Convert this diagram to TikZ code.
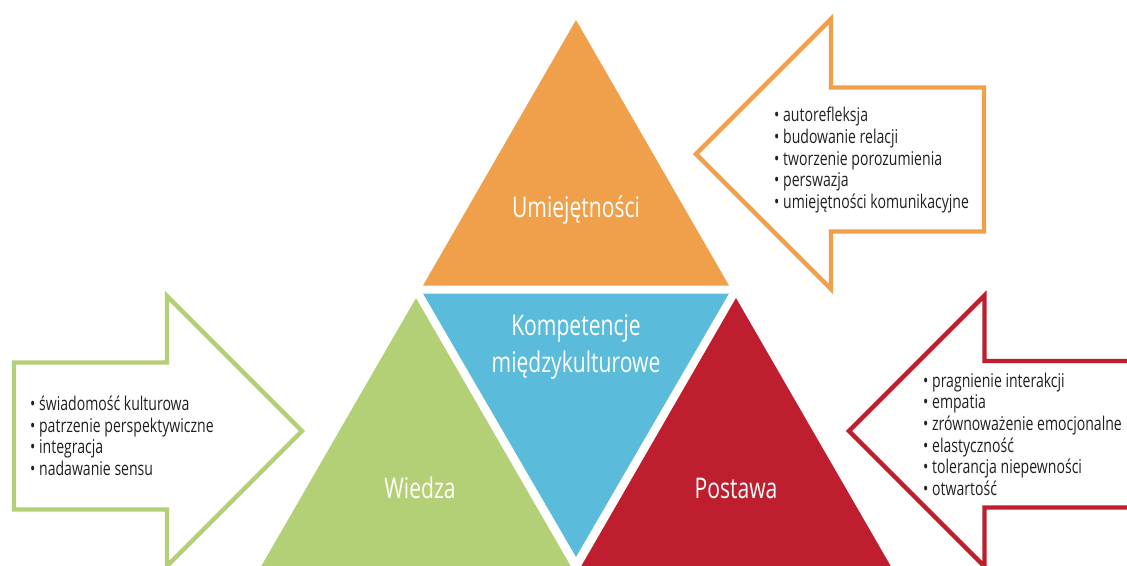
\documentclass[tikz,border=0pt]{standalone}
\usepackage{fontspec}
\setmainfont{Open Sans}[FakeStretch=0.74]
\definecolor{orangeC}{RGB}{240,160,74}
\definecolor{blueC}{RGB}{90,188,218}
\definecolor{greenC}{RGB}{180,208,118}
\definecolor{redC}{RGB}{190,30,46}
\definecolor{textC}{RGB}{35,31,32}
\tikzset{
  arrowline/.style={line width=4.3pt, line join=miter, miter limit=10},
  tlabel/.style={text=white, font=\fontsize{28.5}{37}\selectfont, align=center, inner sep=0pt},
  blist/.style={text=textC, font=\fontsize{19}{21.7}\selectfont, align=left, inner sep=0pt, anchor=base west},
}
\begin{document}
\begin{tikzpicture}[x=1pt,y=-1pt]
\useasboundingbox (0,0) rectangle (1127,565);
\clip (0,0) rectangle (1127,565);
% triangles
\fill[orangeC] (576,20) -- (729,285.5) -- (423,285.5) -- cycle;
\fill[blueC] (423,293.5) -- (729,293.5) -- (576,557) -- cycle;
\fill[greenC] (416,298) -- (573,570) -- (259,570) -- cycle;
\fill[redC] (736,298) -- (893,570) -- (579,570) -- cycle;
% arrows
\draw[arrowline, orangeC] (696,154) -- (831,19) -- (831,87.5) -- (984,87.5) -- (984,231.5) -- (831,231.5) -- (831,289) -- cycle;
\draw[arrowline, greenC] (302,431) -- (167,296) -- (167,362.5) -- (14,362.5) -- (14,509.5) -- (167,509.5) -- (167,566) -- cycle;
\draw[arrowline, redC] (849,431) -- (984.5,295.5) -- (984.5,361) -- (1140,361) -- (1140,507.5) -- (984.5,507.5) -- (984.5,566.5) -- cycle;
% labels
\node[tlabel] (umi) at (576,210) {Umiejętności};
\node[tlabel] (komp) at (576,346.5) {Kompetencje\\międzykulturowe};
\node[tlabel] (wiedza) at (420,488) {Wiedza};
\node[tlabel] (postawa) at (736,488) {Postawa};
% lists (anchor = baseline of the last line)
\node[blist] (listU) at (774,208.5) {• autorefleksja\\• budowanie relacji\\• tworzenie porozumienia\\• perswazja\\• umiejętności komunikacyjne};
\node[blist] (listW) at (30,475.5) {• świadomość kulturowa\\• patrzenie perspektywiczne\\• integracja\\• nadawanie sensu};
\node[blist] (listP) at (923,495.5) {• pragnienie interakcji\\• empatia\\• zrównoważenie emocjonalne\\• elastyczność\\• tolerancja niepewności\\• otwartość};
\end{tikzpicture}
\end{document}
